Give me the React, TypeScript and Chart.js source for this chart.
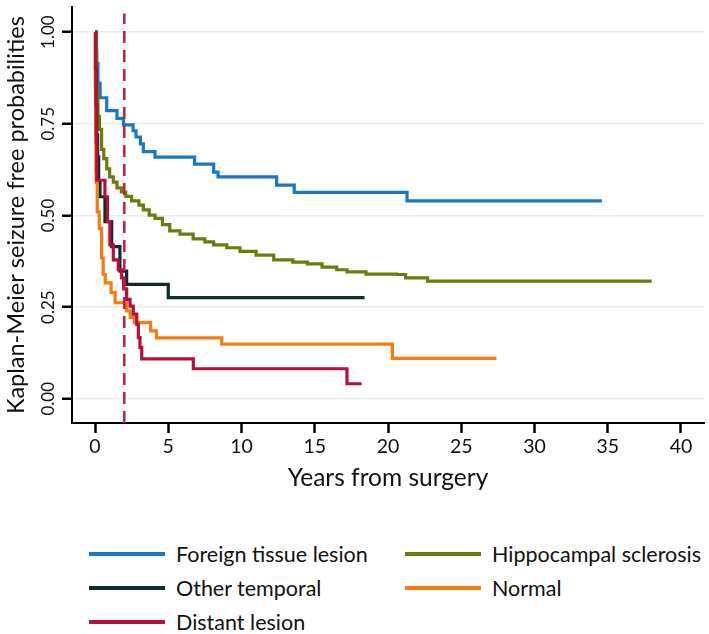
import React, { useEffect, useRef } from "react";
import { Chart, registerables } from "chart.js";

Chart.register(...registerables);

// ---- data ----
const seriesNames = [
  "Foreign tissue lesion",
  "Hippocampal sclerosis",
  "Other temporal",
  "Normal",
  "Distant lesion",
];
const seriesColors = ["#1878c8", "#6b7c0b", "#0f2b2c", "#f57d0f", "#b5103a"];

const foreignTime = [0, 0.05, 0.12, 0.2, 0.35, 0.8, 1.5, 1.95, 2.6, 2.8, 3.1, 3.3, 4.1, 6.8, 8.1, 8.4, 12.4, 13.6, 21.3, 34.6];
const foreignSurv = [1.0, 0.95, 0.915, 0.86, 0.821, 0.786, 0.765, 0.747, 0.731, 0.714, 0.695, 0.674, 0.659, 0.64, 0.618, 0.605, 0.583, 0.563, 0.54, 0.54];

const hippoTime = [0, 0.1, 0.2, 0.3, 0.45, 0.6, 0.8, 1.0, 1.25, 1.5, 1.8, 2.1, 2.5, 3.0, 3.3, 3.7, 4.1, 4.6, 5.1, 5.8, 6.7, 7.5, 8.1, 9.0, 9.9, 11.0, 12.2, 13.5, 14.5, 15.5, 16.5, 17.2, 18.5, 20.6, 21.2, 22.7, 38.0];
const hippoSurv = [1.0, 0.85, 0.77, 0.735, 0.68, 0.655, 0.627, 0.605, 0.591, 0.575, 0.564, 0.552, 0.54, 0.528, 0.515, 0.501, 0.492, 0.475, 0.458, 0.449, 0.436, 0.428, 0.42, 0.412, 0.402, 0.392, 0.379, 0.373, 0.368, 0.359, 0.352, 0.346, 0.34, 0.339, 0.33, 0.321, 0.321];

const otherTime = [0, 0.04, 0.08, 0.12, 0.18, 0.25, 0.34, 0.68, 1.14, 1.7, 2.16, 5.0, 18.4];
const otherSurv = [1.0, 0.9, 0.8, 0.72, 0.66, 0.59, 0.551, 0.483, 0.415, 0.348, 0.312, 0.276, 0.276];

const normalTime = [0, 0.02, 0.04, 0.06, 0.08, 0.15, 0.29, 0.45, 0.56, 0.7, 1.1, 1.37, 2.15, 2.4, 2.7, 3.8, 4.2, 8.65, 20.3, 27.4];
const normalSurv = [1.0, 0.85, 0.72, 0.62, 0.59, 0.51, 0.465, 0.384, 0.339, 0.316, 0.29, 0.262, 0.24, 0.222, 0.208, 0.185, 0.166, 0.149, 0.11, 0.11];

const distantTime = [0, 0.03, 0.06, 0.09, 0.12, 0.68, 0.85, 1.02, 1.25, 1.59, 1.82, 1.95, 2.16, 2.39, 2.61, 2.85, 2.96, 3.07, 3.19, 6.71, 17.2, 18.2];
const distantSurv = [1.0, 0.9, 0.8, 0.7, 0.596, 0.551, 0.483, 0.42, 0.379, 0.352, 0.33, 0.3, 0.271, 0.253, 0.231, 0.203, 0.167, 0.14, 0.109, 0.082, 0.041, 0.041];

const landmarkYear = 2;
const landmarkRange = [-0.066, 1.051];

const xTickValues = [0, 5, 10, 15, 20, 25, 30, 35, 40];
const yTickValues = [0, 0.25, 0.5, 0.75, 1];
const yTickLabels = ["0.00", "0.25", "0.50", "0.75", "1.00"];

const xTitle = "Years from surgery";
const yTitle = "Kaplan-Meier seizure free probabilities";

const FONT = "Lato";

function pts(t: number[], s: number[]) {
  return t.map((x, i) => ({ x, y: s[i] }));
}

export default function App() {
  const ref = useRef<HTMLCanvasElement | null>(null);

  useEffect(() => {
    document.body.style.margin = "0";
    const canvas = ref.current;
    if (!canvas) return;
    const series = [
      pts(foreignTime, foreignSurv),
      pts(hippoTime, hippoSurv),
      pts(otherTime, otherSurv),
      pts(normalTime, normalSurv),
      pts(distantTime, distantSurv),
    ];
    const drawOrder = [5, 4, 3, 2, 1];
    const datasets: any[] = series.map((d, i) => ({
      label: seriesNames[i],
      data: d,
      borderColor: seriesColors[i],
      backgroundColor: seriesColors[i],
      borderWidth: 3.2,
      pointRadius: 0,
      stepped: "before",
      fill: false,
      order: drawOrder[i],
    }));
    datasets.push({
      label: "landmark",
      data: [
        { x: landmarkYear, y: landmarkRange[0] },
        { x: landmarkYear, y: landmarkRange[1] },
      ],
      borderColor: "#c01e3e",
      borderWidth: 2.5,
      borderDash: [12, 7],
      pointRadius: 0,
      fill: false,
      order: 0,
    });

    const chart = new Chart(canvas, {
      type: "line",
      data: { datasets },
      options: {
        animation: false,
        responsive: false,
        maintainAspectRatio: false,
        layout: { padding: { top: 4, right: 5, left: 0, bottom: 0 } },
        plugins: { legend: { display: false }, tooltip: { enabled: false } },
        scales: {
          x: {
            type: "linear",
            min: -1.57,
            max: 41.57,
            afterBuildTicks: (scale: any) => {
              scale.ticks = xTickValues.map((v) => ({ value: v }));
            },
            afterFit: (scale: any) => {
              scale.height = 77;
            },
            ticks: {
              font: { family: FONT, size: 19.5 },
              color: "#111",
              padding: 2,
              maxRotation: 0,
              callback: (v: any) => String(v),
            },
            grid: {
              drawOnChartArea: false,
              drawTicks: true,
              tickLength: 10,
              tickColor: "#000",
              tickWidth: 2.5,
            },
            border: { display: true, color: "#000", width: 2 },
            title: {
              display: true,
              text: xTitle,
              font: { family: FONT, size: 24.5 },
              color: "#111",
              padding: { top: 0, bottom: 7 },
            },
          },
          y: {
            type: "linear",
            min: -0.066,
            max: 1.068,
            afterBuildTicks: (scale: any) => {
              scale.ticks = yTickValues.map((v) => ({ value: v }));
            },
            afterFit: (scale: any) => {
              scale.width = 72;
            },
            ticks: {
              font: { family: FONT, size: 17 },
              color: "#111",
              padding: -3,
              minRotation: 90,
              maxRotation: 90,
              crossAlign: "center",
              callback: (v: any) => {
                const i = yTickValues.indexOf(Number(v));
                return i >= 0 ? yTickLabels[i] : "";
              },
            },
            grid: {
              color: "#e4edf0",
              lineWidth: 1.5,
              drawTicks: true,
              tickLength: 10,
              tickColor: "#000",
              tickWidth: 2.5,
            },
            border: { display: true, color: "#000", width: 2 },
            title: {
              display: true,
              text: yTitle,
              font: { family: FONT, size: 23.5 },
              color: "#111",
              padding: { top: 2, bottom: 0 },
            },
          },
        },
      } as any,
    });
    return () => chart.destroy();
  }, []);

  const legendRows = [
    [0, 1],
    [2, 3],
    [4],
  ];

  return (
    <div style={{ position: "relative", width: 709, height: 634, overflow: "hidden", background: "#fff" }}>
      <canvas ref={ref} width={709} height={500} style={{ position: "absolute", left: 0, top: 0, width: 709, height: 500 }} />
      <div style={{ position: "absolute", left: 89, top: 537 }}>
        {legendRows.map((row, r) => (
          <div key={r} style={{ display: "flex", height: 34 }}>
            {row.map((i) => (
              <div key={i} style={{ display: "flex", alignItems: "center", width: 316 }}>
                <span style={{ display: "inline-block", width: 76, height: 4, background: seriesColors[i], marginRight: 11 }} />
                <span style={{ fontFamily: FONT, fontSize: 21.5, color: "#111", whiteSpace: "nowrap" }}>{seriesNames[i]}</span>
              </div>
            ))}
          </div>
        ))}
      </div>
    </div>
  );
}
